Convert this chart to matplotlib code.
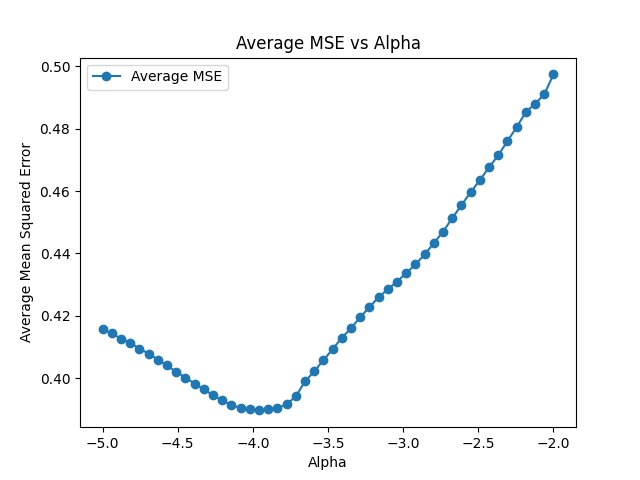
import numpy as np
import matplotlib
matplotlib.use("Agg")
import matplotlib.pyplot as plt

alphas = np.linspace(-5, -2, 50)
mse = [0.4157,0.4144,0.4127,0.4114,0.4095,0.4079,0.4060,0.4041,0.4021,0.4002,
       0.3983,0.3964,0.3946,0.3929,0.3914,0.3905,0.3900,0.3897,0.3900,0.3904,
       0.3916,0.3942,0.3990,0.4022,0.4058,0.4093,0.4130,0.4160,0.4196,0.4228,
       0.4260,0.4285,0.4310,0.4337,0.4365,0.4397,0.4433,0.4470,0.4513,0.4555,
       0.4596,0.4635,0.4676,0.4715,0.4760,0.4805,0.4853,0.4910,0.4974][:0] or None
mse = [0.4157,0.4144,0.4127,0.4114,0.4095,0.4079,0.4060,0.4041,0.4021,0.4002,
       0.3983,0.3964,0.3946,0.3929,0.3914,0.3905,0.3900,0.3897,0.3900,0.3904,
       0.3916,0.3942,0.3990,0.4022,0.4058,0.4093,0.4130,0.4160,0.4196,0.4228,
       0.4260,0.4285,0.4310,0.4337,0.4365,0.4397,0.4433,0.4470,0.4513,0.4555,
       0.4596,0.4635,0.4676,0.4715,0.4760,0.4805,0.4853,0.4880,0.4910,0.4974]

fig, ax = plt.subplots(figsize=(6.4, 4.8), dpi=100)
ax.plot(alphas, mse, marker='o', label='Average MSE')
ax.set_title('Average MSE vs Alpha')
ax.set_xlabel('Alpha')
ax.set_ylabel('Average Mean Squared Error')
ax.legend(loc='upper left')
fig.savefig('out.png')
